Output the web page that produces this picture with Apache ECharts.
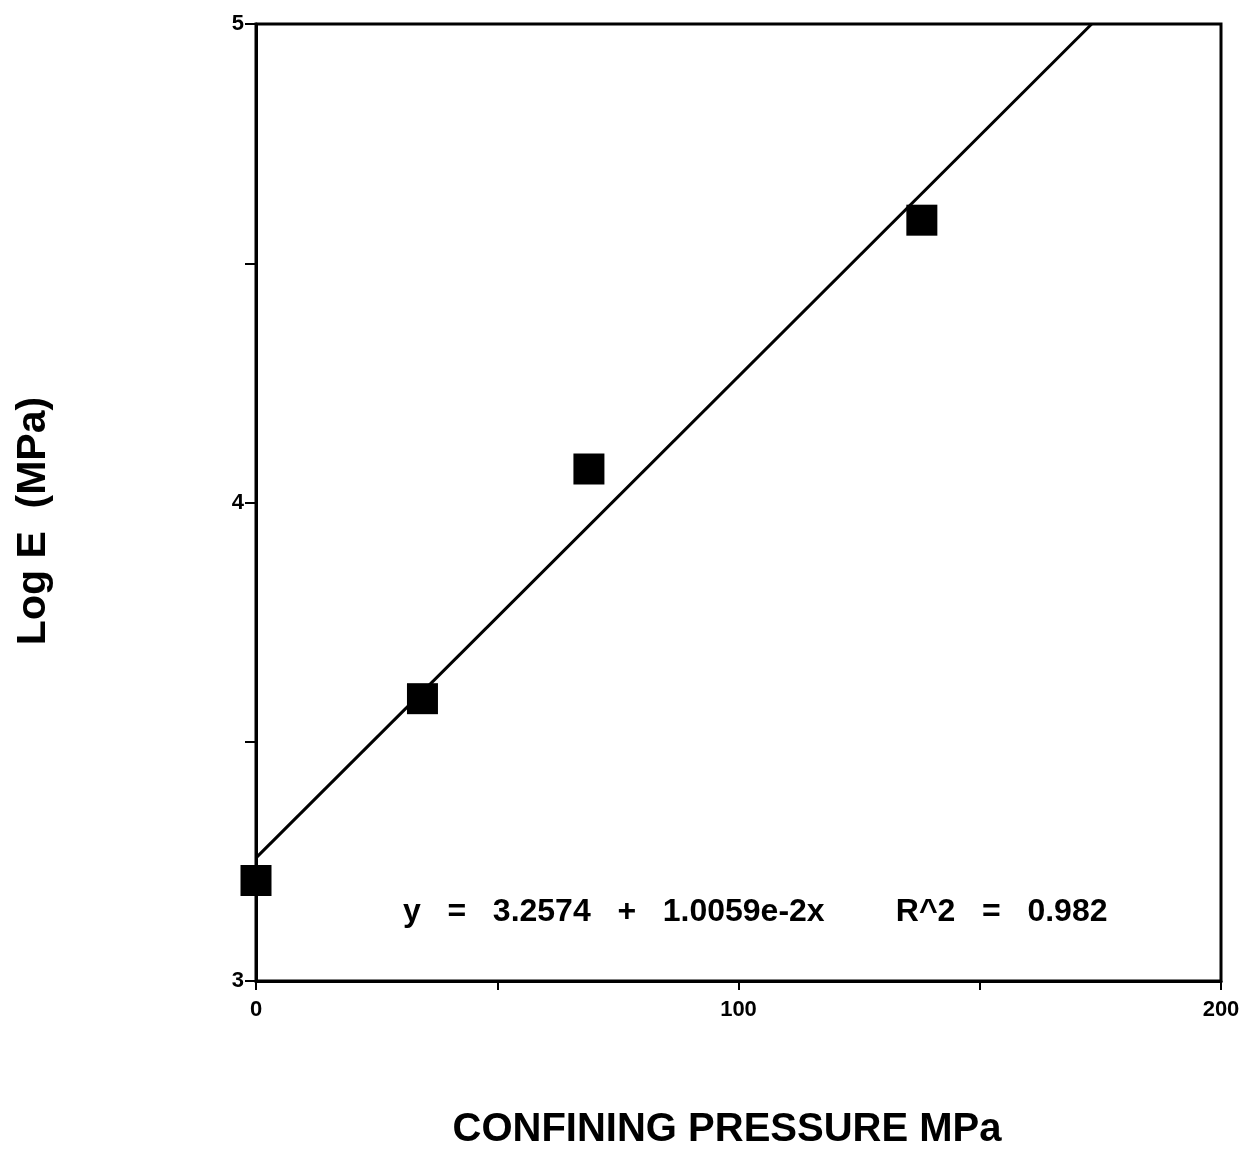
<!DOCTYPE html>
<html>
<head>
<meta charset="utf-8">
<script src="https://cdn.jsdelivr.net/npm/echarts@6/dist/echarts.min.js"></script>
<style>
  html, body { margin: 0; padding: 0; background: #fff; }
  #chart { width: 1254px; height: 1175px; }
</style>
</head>
<body>
<div id="chart"></div>
<script>
// confining pressure (MPa) and log E (MPa)
var pressure = [0, 34.5, 69, 138];
var logE = [3.21, 3.59, 4.07, 4.59];

// regression line y = 3.2574 + 1.0059e-2 x, drawn until it meets the top of the frame
var fitX = [0, 173.2];
var fitY = [3.2574, 5.0];

var xTicks = [0, 100, 200];
var yTicks = [3, 4, 5];

var eqText = 'y   =   3.2574   +   1.0059e-2x        R^2   =   0.982';

var font = '"Liberation Sans", Arial, sans-serif';

var myChart = echarts.init(document.getElementById('chart'));

var option = {
  backgroundColor: '#fff',
  animation: false,
  grid: {
    left: 256,
    right: 33,
    top: 24,
    bottom: 194,
    show: true,
    borderColor: '#000',
    borderWidth: 3
  },
  xAxis: {
    type: 'value',
    min: 0,
    max: 200,
    interval: 50,
    axisLine: { show: true, onZero: false, lineStyle: { color: '#000', width: 3 } },
    axisTick: { show: true, length: 9, lineStyle: { color: '#000', width: 2 } },
    splitLine: { show: false },
    axisLabel: {
      margin: 18,
      color: '#000',
      fontFamily: font,
      fontWeight: 'bold',
      fontSize: 22,
      formatter: function(v) {
        return xTicks.indexOf(v) >= 0 ? String(v) : '';
      }
    }
  },
  yAxis: {
    type: 'value',
    min: 3,
    max: 5,
    interval: 0.5,
    axisLine: { show: true, onZero: false, lineStyle: { color: '#000', width: 3 } },
    axisTick: { show: true, length: 11, lineStyle: { color: '#000', width: 2 } },
    splitLine: { show: false },
    axisLabel: {
      margin: 12,
      color: '#000',
      fontFamily: font,
      fontWeight: 'bold',
      fontSize: 22,
      formatter: function(v) {
        return yTicks.indexOf(v) >= 0 ? String(v) : '';
      }
    }
  },
  series: [
    {
      // fitted line
      type: 'line',
      data: fitX.map(function(x, i) { return [x, fitY[i]]; }),
      showSymbol: false,
      symbol: 'none',
      lineStyle: { color: '#000', width: 3 },
      z: 2
    },
    {
      type: 'scatter',
      data: pressure.map(function(x, i) { return [x, logE[i]]; }),
      symbol: 'rect',
      symbolSize: 31,
      itemStyle: { color: '#000', opacity: 1 },
      z: 3
    }
  ],
  graphic: [
    {
      type: 'text',
      left: 403,
      top: 896,
      style: {
        text: eqText,
        fill: '#000',
        font: 'bold 32px ' + font
      }
    },
    {
      type: 'text',
      x: 727,
      y: 1130,
      style: {
        text: 'CONFINING PRESSURE MPa',
        fill: '#000',
        font: 'bold 40px ' + font,
        align: 'center',
        verticalAlign: 'middle'
      }
    },
    {
      type: 'text',
      x: 34,
      y: 521,
      rotation: Math.PI / 2,
      style: {
        text: 'Log E  (MPa)',
        fill: '#000',
        font: 'bold 41px ' + font,
        align: 'center',
        verticalAlign: 'middle'
      }
    }
  ]
};

myChart.setOption(option);
</script>
</body>
</html>
